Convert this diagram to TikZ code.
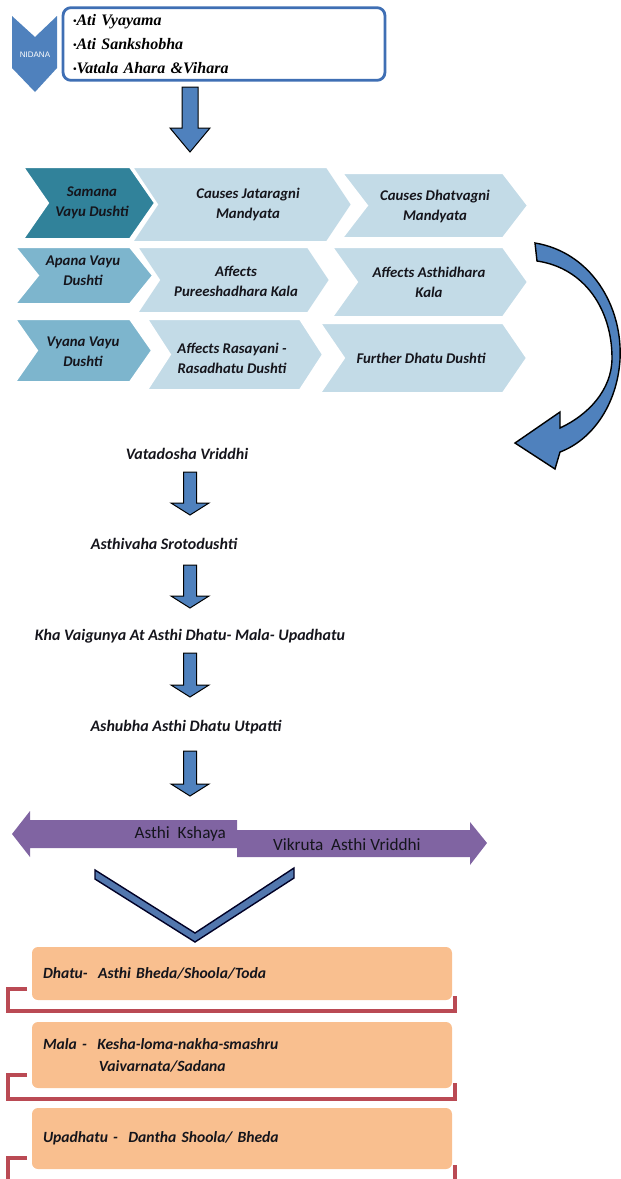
\documentclass[tikz,border=0pt]{standalone}
\usepackage{fontspec}
\usepackage{xcolor}
\usepackage{tikz}
\usetikzlibrary{calc}
\newfontfamily\carlito{Carlito}
\newfontfamily\timesfont{Liberation Serif}
\newfontfamily\arialfont{Liberation Sans}
\definecolor{nidanablue}{HTML}{4F81BD}
\definecolor{boxblue}{HTML}{3F6FB4}
\definecolor{tealdark}{HTML}{31829A}
\definecolor{tealmid}{HTML}{7DB5CD}
\definecolor{teallight}{HTML}{C3DBE7}
\definecolor{vpurple}{HTML}{8064A2}
\definecolor{peach}{HTML}{F9BF8F}
\definecolor{bracketred}{HTML}{BA4A54}
\definecolor{inkdark}{HTML}{15151C}
\definecolor{vblue}{HTML}{5277AE}
\tikzstyle{nidana text}=[text=white, font=\arialfont\fontsize{4}{5}\selectfont]
\tikzstyle{cause box}=[draw=boxblue, line width=1.4pt, rounded corners=4pt, fill=white, minimum width=161pt, minimum height=36pt, text width=151pt, inner xsep=4.5pt, align=left, font=\timesfont\bfseries\itshape\fontsize{8}{12}\selectfont]
\tikzstyle{chev text}=[align=center, text=inkdark, font=\carlito\bfseries\itshape\fontsize{7.4}{10}\selectfont]
\tikzstyle{step text}=[text=inkdark, font=\carlito\bfseries\itshape\fontsize{8}{10}\selectfont]
\tikzstyle{way text}=[text=inkdark, font=\carlito\fontsize{8.6}{10}\selectfont]
\tikzstyle{sign box}=[fill=peach, rounded corners=3pt, minimum width=210pt, text width=199pt, inner xsep=5.5pt, align=left, text=inkdark, font=\carlito\bfseries\itshape\fontsize{7.8}{11}\selectfont]
\tikzstyle{chevron}=[draw=white, line width=1pt]
\tikzstyle{block arrow}=[fill=nidanablue, draw=black, line width=0.5pt]
\tikzstyle{bracket}=[draw=bracketred, line width=2pt]
\pgfdeclarelayer{nodelayer}
\pgfdeclarelayer{edgelayer}
\pgfsetlayers{edgelayer,nodelayer,main}
\newcommand{\bul}{\raisebox{0.6pt}{\fontsize{5}{5}\selectfont\textbullet}}
% #1 left, #2 tip, #3 top, #4 bottom, #5 depth, #6 colour
\newcommand{\chev}[6]{\path[style=chevron, fill=#6] (#1,#3) -- ({#2-#5},#3) -- (#2,{(#3+#4)/2}) -- ({#2-#5},#4) -- (#1,#4) -- ({#1+#5},{(#3+#4)/2}) -- cycle;}
% #1 start, #2 tip, #3 half shaft, #4 half head, #5 head length
\newcommand{\blockarrow}[5]{\draw[style=block arrow] ($(#1)+(-#3,0)$) -- ($(#1)+(#3,0)$) -- ($(#2)+(#3,-#5)$) -- ($(#2)+(#4,-#5)$) -- (#2) -- ($(#2)+(-#4,-#5)$) -- ($(#2)+(-#3,-#5)$) -- cycle;}

\begin{document}
\begin{tikzpicture}[x=0.5pt, y=-0.5pt]
	\useasboundingbox (0,0) rectangle (621,1179);
	\begin{pgfonlayer}{nodelayer}
		\node [style=nidana text] (0) at (35,55) {NIDANA};
		\node [style=cause box] (1) at (224,44) {\bul Ati Vyayama\\\bul Ati Sankshobha\\\bul Vatala Ahara \&Vihara};
		\node [style=chev text] (2) at (92,203) {Samana\\Vayu Dushti};
		\node [style=chev text] (3) at (248,204) {Causes Jataragni\\Mandyata};
		\node [style=chev text] (4) at (435,206) {Causes Dhatvagni\\Mandyata};
		\node [style=chev text] (5) at (83,271) {Apana Vayu\\Dushti};
		\node [style=chev text] (6) at (236,281) {Affects\\Pureeshadhara Kala};
		\node [style=chev text] (7) at (429,282) {Affects Asthidhara\\Kala};
		\node [style=chev text] (8) at (83,352) {Vyana Vayu\\Dushti};
		\node [style=chev text] (9) at (232,358) {Affects Rasayani -\\Rasadhatu Dushti};
		\node [style=chev text] (10) at (421,358) {Further Dhatu Dushti};
		\node [style=step text] (11) at (187,454) {Vatadosha Vriddhi};
		\node [style=step text] (12) at (164,544) {Asthivaha Srotodushti};
		\node [style=step text] (13) at (190,636) {Kha Vaigunya At Asthi Dhatu- Mala- Upadhatu};
		\node [style=step text] (14) at (186,727) {Ashubha Asthi Dhatu Utpatti};
		\node [style=way text, anchor=east] (15) at (233,834) {Asthi~ Kshaya};
		\node [style=way text, anchor=west] (16) at (266,845) {Vikruta~ Asthi Vriddhi};
		\node [style=sign box, minimum height=26.5pt] (17) at (242,973.5) {Dhatu-~ Asthi Bheda/Shoola/Toda};
		\node [style=sign box, minimum height=33pt] (18) at (242,1055) {Mala -~ Kesha-loma-nakha-smashru\\\hspace*{28pt}Vaivarnata/Sadana};
		\node [style=sign box, minimum height=30.5pt] (19) at (242,1138.5) {Upadhatu -~ Dantha Shoola/ Bheda};
	\end{pgfonlayer}
	\begin{pgfonlayer}{edgelayer}
		\fill [nidanablue] (12,16) -- (35,37) -- (57,16) -- (57,68) -- (35,92) -- (12,68) -- cycle;
		\coordinate (a0) at (190,87);
		\coordinate (a0t) at (190,152);
		\blockarrow{a0}{a0t}{8}{20}{24}
		% row 1
		\chev{342}{528}{173}{238}{25}{teallight}
		\chev{132}{352}{167}{242}{25}{teallight}
		\chev{23}{155}{167}{239}{25}{tealdark}
		% row 2
		\chev{332}{528}{247}{317}{25}{teallight}
		\chev{137}{330}{247}{313}{22}{teallight}
		\chev{15}{153}{247}{304}{23}{tealmid}
		% row 3
		\chev{320}{527}{323}{393}{24}{teallight}
		\chev{147}{323}{319}{390}{23}{teallight}
		\chev{15}{152}{319}{382}{22}{tealmid}
		\draw [style=block arrow, line width=0.7pt] (535,243) .. controls (590,252) and (623,305) .. (620,360) .. controls (617,405) and (592,440) .. (560,452) -- (555,469) -- (515,443) -- (560,412) -- (560,428) .. controls (588,415) and (612,390) .. (612,358) .. controls (612,310) and (585,268) .. (537,261) -- cycle;
		\coordinate (a1) at (190,472);
		\coordinate (a1t) at (190,515);
		\coordinate (a2) at (190,565);
		\coordinate (a2t) at (190,608);
		\coordinate (a3) at (190,653);
		\coordinate (a3t) at (190,697);
		\coordinate (a4) at (190,751);
		\coordinate (a4t) at (190,796);
		\blockarrow{a1}{a1t}{6.5}{19}{12}
		\blockarrow{a2}{a2t}{6.5}{19}{12}
		\blockarrow{a3}{a3t}{6.5}{19}{12}
		\blockarrow{a4}{a4t}{6.5}{19}{12}
		\fill [vpurple] (237,830) -- (470,830) -- (470,822) -- (487,843) -- (470,865) -- (470,857) -- (237,857) -- cycle;
		\fill [vpurple] (237,820) -- (30,820) -- (30,811) -- (12,834) -- (30,857) -- (30,848) -- (237,848) -- cycle;
		\draw [fill=vblue, draw=black!85!blue, line width=0.7pt] (95,870) -- (195,933) -- (294,868) -- (294,878) -- (195,942) -- (95,879) -- cycle;
		\draw [style=bracket] (27,989) -- (8,989) -- (8,1011) -- (455,1011) -- (455,996);
		\draw [style=bracket] (27,1075) -- (8,1075) -- (8,1099) -- (455,1099) -- (455,1083);
		\draw [style=bracket] (27,1158) -- (8,1158) -- (8,1186) -- (455,1186) -- (455,1165);
	\end{pgfonlayer}
\end{tikzpicture}
\end{document}
